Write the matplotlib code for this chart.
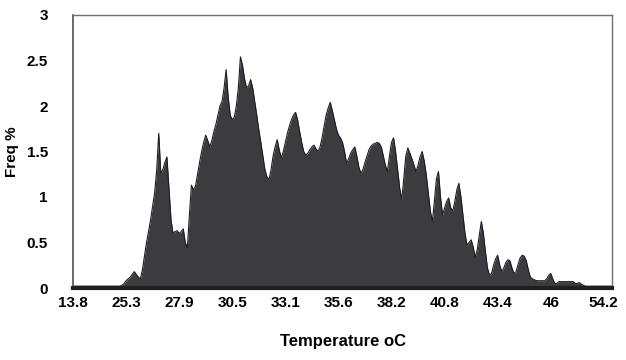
import numpy as np
from matplotlib import pyplot as plt

# frequency (%) per temperature class, one value per category
freq = (
    [0.02] * 24 + [0.03] +
    [0.05, 0.08, 0.10, 0.12, 0.15, 0.18, 0.15, 0.12, 0.10, 0.20] +
    [0.35, 0.50, 0.62, 0.75, 0.90, 1.05, 1.30, 1.70, 1.26, 1.30] +
    [1.38, 1.44, 1.10, 0.75, 0.60, 0.62, 0.63, 0.60, 0.62, 0.65] +
    [0.50, 0.44, 0.80, 1.13, 1.08, 1.12, 1.25, 1.38, 1.50, 1.60] +
    [1.68, 1.62, 1.55, 1.62, 1.72, 1.80, 1.90, 2.00, 2.05, 2.20] +
    [2.40, 2.10, 1.90, 1.85, 1.88, 2.00, 2.20, 2.54, 2.45, 2.30] +
    [2.20, 2.22, 2.29, 2.20, 2.05, 1.90, 1.74, 1.60, 1.45, 1.30] +
    [1.22, 1.19, 1.30, 1.45, 1.55, 1.63, 1.52, 1.43, 1.50, 1.60] +
    [1.70, 1.78, 1.85, 1.90, 1.93, 1.85, 1.72, 1.60, 1.50, 1.46] +
    [1.48, 1.52, 1.55, 1.57, 1.53, 1.50, 1.55, 1.65, 1.78, 1.90, 1.98] +
    [2.04, 1.95, 1.85, 1.75, 1.68, 1.65, 1.60, 1.50, 1.37, 1.42] +
    [1.48, 1.52, 1.55, 1.45, 1.33, 1.26, 1.30, 1.38, 1.45, 1.52] +
    [1.56, 1.58, 1.59, 1.60, 1.59, 1.55, 1.45, 1.35, 1.28, 1.45] +
    [1.60, 1.65, 1.50, 1.30, 1.10, 0.97, 1.20, 1.45, 1.54, 1.48] +
    [1.42, 1.35, 1.28, 1.35, 1.44, 1.50, 1.40, 1.25, 1.05, 0.85] +
    [0.73, 0.95, 1.20, 1.28, 1.00, 0.80, 0.88, 0.95, 0.99, 0.88] +
    [0.85, 0.95, 1.08, 1.15, 1.00, 0.80, 0.60, 0.47, 0.50, 0.53] +
    [0.45, 0.34, 0.42, 0.58, 0.73, 0.60, 0.40, 0.22, 0.14, 0.16] +
    [0.25, 0.32, 0.36, 0.25, 0.18, 0.22, 0.28, 0.31, 0.30, 0.22] +
    [0.16, 0.18, 0.26, 0.33, 0.36, 0.35, 0.30, 0.20, 0.12, 0.10] +
    [0.09, 0.08, 0.08, 0.08, 0.08, 0.08, 0.10, 0.14, 0.16, 0.10] +
    [0.05, 0.05] + [0.07] * 8 + [0.05, 0.05, 0.06, 0.04, 0.03] +
    [0.02] * 14
)
tick_labels = ['13.8', '25.3', '27.9', '30.5', '33.1', '35.6', '38.2',
               '40.8', '43.4', '46', '54.2']
tick_step = 26
y_ticks = [0, 0.5, 1, 1.5, 2, 2.5, 3]
y_tick_labels = ['0', '0.5', '1', '1.5', '2', '2.5', '3']

plt.rcParams['font.family'] = ['Liberation Sans', 'DejaVu Sans']
plt.rcParams['font.weight'] = 'bold'

x = np.arange(len(freq))

fig = plt.figure(figsize=(6.26, 3.6), dpi=100)
ax = fig.add_axes([73 / 626, 1 - 288 / 360, (612 - 73) / 626, (288 - 15) / 360])
ax.fill_between(x, freq, 0, color='#3b3b40', linewidth=0)
ax.plot(x, freq, color='#1e1e22', lw=0.8)

ax.set_xlim(0, len(freq) - 1)
ax.set_ylim(0, 3)
ax.set_xticks(x[::tick_step][:len(tick_labels)])
ax.set_xticklabels(tick_labels)
ax.set_yticks(y_ticks)
ax.set_yticklabels(y_tick_labels)
ax.tick_params(axis='both', length=0, labelsize=11)
ax.tick_params(axis='x', pad=6)
ax.tick_params(axis='y', pad=18)

for s in ['top', 'right']:
    ax.spines[s].set_color('#707070')
    ax.spines[s].set_linewidth(1.0)
ax.spines['left'].set_color('#505050')
ax.spines['left'].set_linewidth(1.2)
ax.spines['bottom'].set_color('#202020')
ax.spines['bottom'].set_linewidth(3)

ax.set_xlabel('Temperature oC', fontsize=12, fontweight='bold')
ax.xaxis.set_label_coords(0.5, -0.17)
ax.set_ylabel('Freq %', fontsize=11, fontweight='bold')
ax.yaxis.set_label_coords(-0.1, 0.5)

fig.savefig('out.png', dpi=100)
